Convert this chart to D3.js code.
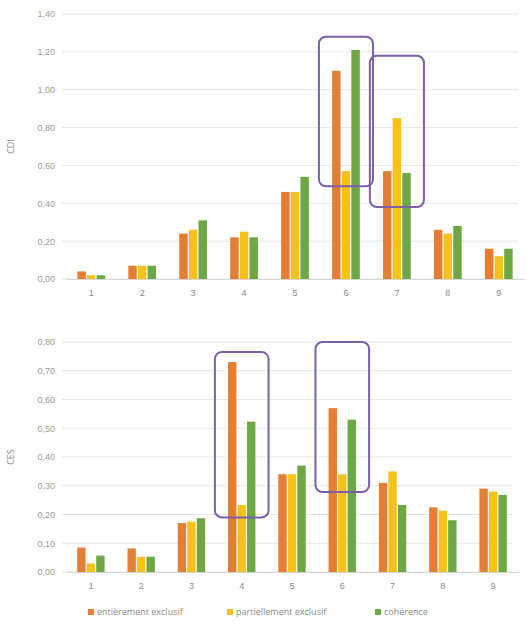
<!DOCTYPE html>
<html>
<head>
<meta charset="utf-8">
<script src="https://cdn.jsdelivr.net/npm/d3@7"></script>
<style>
  body { margin: 0; background: #fff; }
  svg { display: block; font-family: "Open Sans", "Liberation Sans", sans-serif; }
</style>
</head>
<body>
<svg id="chart" width="526" height="622"></svg>
<script>
// Categories and series
const categories = ["1", "2", "3", "4", "5", "6", "7", "8", "9"];
const seriesNames = ["entièrement exclusif", "partiellement exclusif", "cohérence"];
const seriesColors = ["#E57E35", "#F6C21A", "#6DA844"];

// Upper panel (CDI)
const cdiEntier   = [0.04, 0.07, 0.24, 0.22, 0.46, 1.10, 0.57, 0.26, 0.16];
const cdiPartiel  = [0.02, 0.07, 0.26, 0.25, 0.46, 0.57, 0.85, 0.24, 0.12];
const cdiCoherent = [0.02, 0.07, 0.31, 0.22, 0.54, 1.21, 0.56, 0.28, 0.16];
const cdiTicks = [0, 0.2, 0.4, 0.6, 0.8, 1.0, 1.2, 1.4];
// Highlight frames: [category, lower value, upper value]
const cdiFrames = [["6", 0.49, 1.28], ["7", 0.38, 1.18]];

// Lower panel (CES)
const cesEntier   = [0.085, 0.082, 0.17, 0.73, 0.34, 0.57, 0.31, 0.225, 0.29];
const cesPartiel  = [0.03, 0.053, 0.175, 0.233, 0.34, 0.34, 0.35, 0.213, 0.28];
const cesCoherent = [0.057, 0.053, 0.187, 0.523, 0.37, 0.53, 0.233, 0.18, 0.268];
const cesTicks = [0, 0.1, 0.2, 0.3, 0.4, 0.5, 0.6, 0.7, 0.8];
const cesFrames = [["4", 0.19, 0.765], ["6", 0.278, 0.80]];

const svg = d3.select("#chart");
const fmt = v => d3.format(".2f")(v).replace(".", ",");

function panel(opts) {
  const { top, bottom, right, max, ticks, series, frames, label } = opts;
  const left = 66;
  const g = svg.append("g");

  const x0 = d3.scaleBand().domain(categories).range([left, right]).paddingInner(0.41).paddingOuter(0.2);
  const x1 = d3.scaleBand().domain(d3.range(seriesNames.length)).range([0, x0.bandwidth()]).padding(0.12);
  const y = d3.scaleLinear().domain([0, max]).range([bottom, top]);

  // Gridlines
  g.append("g")
    .selectAll("line")
    .data(ticks)
    .join("line")
    .attr("x1", left - 4).attr("x2", right - 6)
    .attr("y1", d => y(d)).attr("y2", d => y(d))
    .attr("stroke", "#e4e4e4").attr("stroke-width", 1);

  // Y axis tick labels
  const yAxis = d3.axisLeft(y).tickValues(ticks).tickFormat(fmt).tickSize(0).tickPadding(11);
  const ya = g.append("g").attr("transform", `translate(${left},0)`).call(yAxis);
  ya.select(".domain").remove();
  ya.selectAll("text").attr("fill", "#9a9a9a").attr("font-size", 9);

  // X axis labels
  const xAxis = d3.axisBottom(x0).tickSize(0).tickPadding(11);
  const xa = g.append("g").attr("transform", `translate(0,${bottom})`).call(xAxis);
  xa.select(".domain").attr("stroke", "#d6d6d6");
  xa.selectAll("text").attr("fill", "#8a8a8a").attr("font-size", 9);

  // Bars
  categories.forEach((c, i) => {
    series.forEach((vals, s) => {
      g.append("rect")
        .attr("x", x0(c) + x1(s))
        .attr("y", y(vals[i]))
        .attr("width", x1.bandwidth())
        .attr("height", y(0) - y(vals[i]))
        .attr("fill", seriesColors[s]);
    });
  });

  // Highlight frames
  g.append("g")
    .selectAll("rect")
    .data(frames)
    .join("rect")
    .attr("x", d => x0(d[0]) - 12)
    .attr("y", d => y(d[2]))
    .attr("width", x0.bandwidth() + 24)
    .attr("height", d => y(d[1]) - y(d[2]))
    .attr("rx", 7)
    .attr("fill", "none")
    .attr("stroke", "#7C5FA8")
    .attr("stroke-width", 2);

  // Axis title
  g.append("text")
    .attr("transform", `translate(14,${(top + bottom) / 2}) rotate(-90)`)
    .attr("text-anchor", "middle")
    .attr("fill", "#8a8a8a")
    .attr("font-size", 9)
    .text(label);
}

panel({ top: 14, bottom: 279, right: 524, max: 1.4, ticks: cdiTicks,
        series: [cdiEntier, cdiPartiel, cdiCoherent], frames: cdiFrames, label: "CDI" });
panel({ top: 342, bottom: 572, right: 518, max: 0.8, ticks: cesTicks,
        series: [cesEntier, cesPartiel, cesCoherent], frames: cesFrames, label: "CES" });

// Legend
const legendX = [88, 227, 375];
const legend = svg.append("g").attr("transform", "translate(0,613)");
seriesNames.forEach((name, i) => {
  legend.append("rect")
    .attr("x", legendX[i]).attr("y", -4)
    .attr("width", 6).attr("height", 6)
    .attr("fill", seriesColors[i]);
  legend.append("text")
    .attr("x", legendX[i] + 9).attr("y", 2)
    .attr("fill", "#8a8a8a")
    .attr("font-size", 9)
    .text(name);
});
</script>
</body>
</html>
